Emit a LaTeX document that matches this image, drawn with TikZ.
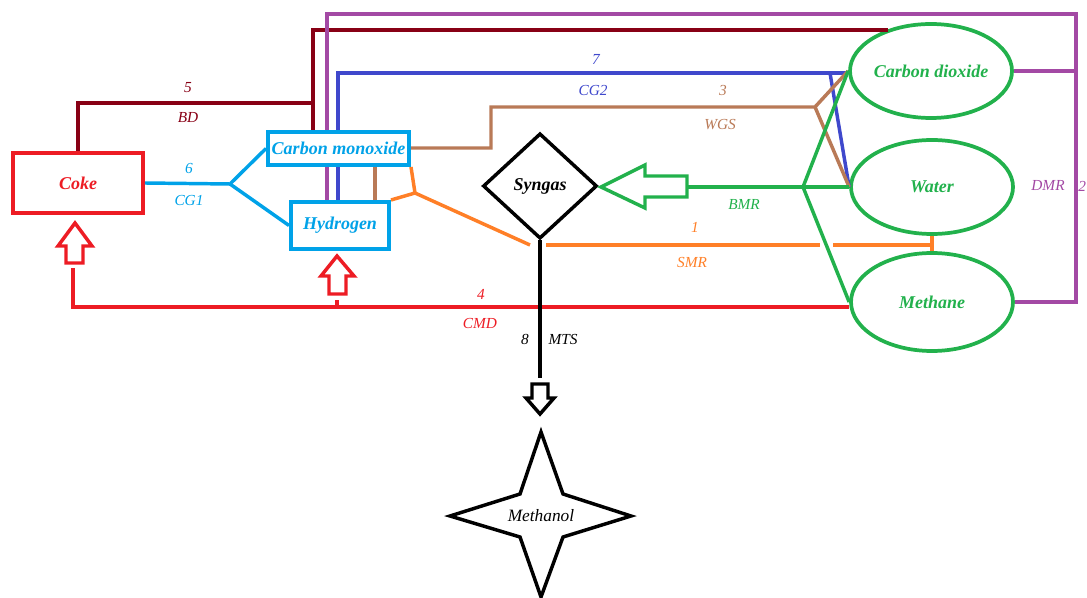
\documentclass[tikz,border=0pt]{standalone}
\usepackage{fontspec}
\setmainfont{Liberation Serif}
\usetikzlibrary{shapes.geometric}
\definecolor{cred}{HTML}{ED1C24}
\definecolor{cdred}{HTML}{880015}
\definecolor{cpurple}{HTML}{A349A4}
\definecolor{cblue}{HTML}{3F48CC}
\definecolor{cbrown}{HTML}{B97A57}
\definecolor{corange}{HTML}{FF7F27}
\definecolor{cgreen}{HTML}{22B14C}
\definecolor{ccyan}{HTML}{00A2E8}
\begin{document}
\begin{tikzpicture}[x=0.75pt,y=-0.75pt,
  ln/.style={line width=2.6pt},
  bx/.style={draw, line width=3pt, fill=white, inner sep=0pt,
    font=\fontsize{13.5}{15}\selectfont\bfseries\itshape},
  el/.style={draw=cgreen, ellipse, line width=2.8pt, text=cgreen, inner sep=0pt,
    minimum width=121.5pt, minimum height=70.5pt,
    font=\fontsize{13.5}{15}\selectfont\bfseries\itshape},
  lab/.style={font=\fontsize{11.5}{13}\selectfont\itshape},
  blockarrow/.style={line width=2.6pt, line join=miter}]
\useasboundingbox (0,0) rectangle (1087,598);

% ---------- nodes ----------
\node[bx, draw=cred, text=cred, minimum width=97.5pt, minimum height=45pt] (coke) at (78,183) {Coke};
\node[bx, draw=ccyan, text=ccyan, minimum width=105.75pt, minimum height=24.75pt] (co) at (338.5,148.5) {Carbon monoxide};
\node[bx, draw=ccyan, text=ccyan, minimum width=73.5pt, minimum height=35.25pt] (h) at (340,225.5) {Hydrogen};
\node[el] (co2) at (931,71) {Carbon dioxide};
\node[el] (water) at (932,187) {Water};
\node[el, minimum height=73.5pt] (meth) at (932,302) {Methane};
\node[draw, diamond, line width=2.6pt, inner sep=0pt, minimum width=85.5pt, minimum height=79pt,
  font=\fontsize{13.5}{15}\selectfont\bfseries\itshape] (syn) at (540,186) {Syngas};

% star (Methanol)
\draw[line width=2.6pt, line join=miter] (541,432) -- (563,494) -- (631,516) -- (563,537) -- (541,597)
  -- (520,537) -- (450,516) -- (520,494) -- cycle;
\node[font=\fontsize{13}{15}\selectfont\itshape] (methanol) at (541,516) {Methanol};
\coordinate (startop) at (541,432);

% ---------- coordinates ----------
\coordinate (cgj) at (230,184);
\coordinate (bdj) at (313,103);
\coordinate (bdtop) at (313,30);
\coordinate (bdend) at (888,30);
\coordinate (pu1) at (327,14);
\coordinate (pu2) at (1076,14);
\coordinate (pu3) at (1076,302);
\coordinate (bl1) at (338,73);
\coordinate (bl2) at (830,73);
\coordinate (br0) at (491,148);
\coordinate (br1) at (491,107);
\coordinate (br2) at (815,107);
\coordinate (brv) at (375,150);
\coordinate (oj) at (415,193);
\coordinate (o1) at (530,245);
\coordinate (o2) at (546,245);
\coordinate (o3) at (820,245);
\coordinate (o4) at (833,245);
\coordinate (smr) at (932,245);
\coordinate (gj) at (803,187);
\coordinate (bmrtail) at (687,187);
\coordinate (cmdc) at (73,307);
\coordinate (cmdt) at (73,268);
\coordinate (hk1) at (337,307);
\coordinate (hk2) at (337,300);
\coordinate (mts) at (540,378);

% ---------- connectors ----------
% 6 CG1
\draw[ln, ccyan] (coke.east) -- (cgj) -- (co.west);
\draw[ln, ccyan] (cgj) -- (h.west);
% 5 BD
\draw[ln, cdred] (coke.north) |- (bdj);
\draw[ln, cdred] (co.north -| bdtop) -- (bdtop) -- (bdend);
% 2 DMR
\draw[ln, cpurple] (h.north -| pu1) -- (co.south -| pu1);
\draw[ln, cpurple, line join=miter] (co.north -| pu1) -- (pu1) -- (pu2) -- (pu3) -- (meth.east);
\draw[ln, cpurple] (co2.east) -- (co2.east -| pu2);
% 7 CG2
\draw[ln, cblue] (h.north -| bl1) -- (co.south -| bl1);
\draw[ln, cblue, line join=miter] (co.north -| bl1) -- (bl1) -- (bl1 -| co2.west);
\draw[ln, cblue] (bl2) -- (water.west);
% 3 WGS
\draw[ln, cbrown, line join=miter] (co.east |- br0) -- (br0) -- (br1) -- (br2) -- (co2.west);
\draw[ln, cbrown] (br2) -- (water.west);
\draw[ln, cbrown] (co.south -| brv) -- (h.north -| brv);
% 1 SMR
\draw[ln, corange] (co.south east) -- (oj) -- (h.north east);
\draw[ln, corange] (oj) -- (o1);
\draw[ln, corange] (o2) -- (o3);
\draw[ln, corange] (o4) -- (smr);
\draw[ln, corange] (water.south) -- (meth.north);
% BMR
\draw[ln, cgreen] (co2.west) -- (gj) -- (meth.west);
\draw[ln, cgreen] (water.west) -- (gj) -- (bmrtail);
\draw[blockarrow, draw=cgreen, fill=white] (bmrtail) -- (687,176) -- (645,176) -- (645,165) -- (601,187)
  -- (645,208) -- (645,197) -- (687,197) -- cycle;
% 4 CMD
\draw[ln, cred, line join=miter] (meth.west |- cmdc) -- (cmdc) -- (cmdt);
\draw[ln, cred] (hk1) -- (hk2);
\draw[blockarrow, draw=cred, fill=white] (66,263) -- (66,246) -- (58,246) -- (75,223) -- (92,246) -- (83,246) -- (83,263) -- cycle;
\draw[blockarrow, draw=cred, fill=white] (329,294) -- (329,276) -- (321,276) -- (337,256) -- (354,276) -- (346,276) -- (346,294) -- cycle;
% 8 MTS
\draw[ln, black] (syn.south) -- (mts);
\draw[blockarrow, draw=black, fill=white] (532,384) -- (548,384) -- (548,398) -- (554,398) -- (540,414) -- (526,398) -- (532,398) -- cycle;

% ---------- labels ----------
\node[lab, cdred] at (188,88) {5};
\node[lab, cdred] at (188,118) {BD};
\node[lab, ccyan] at (189,169) {6};
\node[lab, ccyan] at (189,200) {CG1};
\node[lab, cblue] at (596,59) {7};
\node[lab, cblue] at (593,90) {CG2};
\node[lab, cbrown] at (723,91) {3};
\node[lab, cbrown] at (720,125) {WGS};
\node[lab, corange] at (695,227) {1};
\node[lab, corange] at (692,262) {SMR};
\node[lab, cgreen] at (744,205) {BMR};
\node[lab, cred] at (481,294) {4};
\node[lab, cred] at (480,323) {CMD};
\node[lab, black] at (525,339) {8};
\node[lab, black] at (563,339) {MTS};
\node[lab, cpurple] at (1048,185) {DMR};
\node[lab, cpurple, anchor=east, inner sep=0.6pt] at (1087,186) {2};
\end{tikzpicture}
\end{document}
